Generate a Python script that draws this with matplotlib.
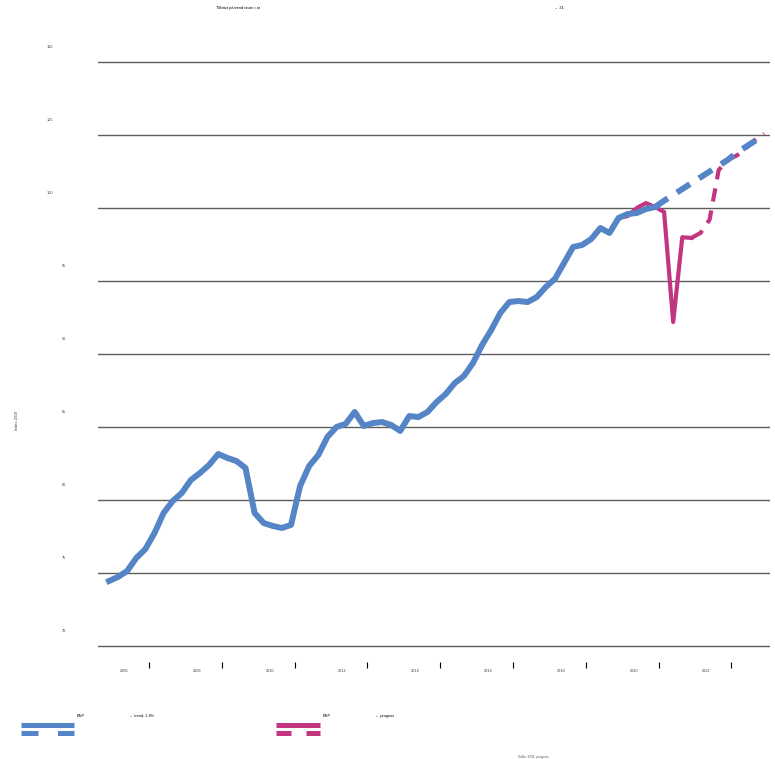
import matplotlib
matplotlib.use("Agg")
import matplotlib.pyplot as plt
from matplotlib.lines import Line2D

plt.rcParams['font.family'] = ['Liberation Sans', 'DejaVu Sans']

# BNP index, quarterly (q = 0 .. 60)
bnp = [74.45, 74.73, 75.14, 76.03, 76.64, 77.74, 79.11, 79.93, 80.48, 81.37,
       81.85, 82.40, 83.15, 82.88, 82.67, 82.19, 79.11, 78.42, 78.22, 78.08,
       78.29, 80.96, 82.33, 83.08, 84.32, 85.00, 85.21, 86.03, 85.07, 85.27,
       85.34, 85.14, 84.73, 85.75, 85.68, 86.03, 86.71, 87.26, 88.01, 88.49,
       89.38, 90.62, 91.64, 92.81, 93.56, 93.63, 93.56, 93.90, 94.59, 95.14,
       96.23, 97.33, 97.47, 97.88, 98.63, 98.29, 99.32, 99.59, 99.66, 99.93,
       100.07]
# trend 1.8 %, q = 60 .. 72
trend = [100.07, 100.5, 100.9, 101.3, 101.7, 102.1, 102.5, 102.9, 103.3,
         103.8, 104.2, 104.6, 105.0]
# revised BNP outcome, q = 57 .. 64
bnp_new = [99.45, 100.0, 100.34, 100.07, 99.73, 92.19, 98.0, 97.95]
# forecast, q = 64 .. 72
prognos = [97.95, 98.29, 99.2, 102.6, 103.3, 103.6, 104.1, 104.66, 105.1]

yticks = [70, 75, 80, 85, 90, 95, 100, 105, 110]
xlabels = ['2006', '2008', '2010', '2012', '2014', '2016', '2018', '2020', '2022']

blue = '#5585C6'
magenta = '#C2357F'
W, H = 775, 759

fig = plt.figure(figsize=(W / 100, H / 100), dpi=100)
ax = fig.add_axes([98 / W, 1 - 648 / H, (770 - 98) / W, (648 - 60) / H])

q_bnp = list(range(len(bnp)))
q_trend = list(range(60, 60 + len(trend)))
q_new = list(range(57, 57 + len(bnp_new)))
q_prog = list(range(64, 64 + len(prognos)))

mag_hist = bnp[:57] + bnp_new
ax.plot(range(len(mag_hist)), mag_hist, color=magenta, lw=3.0, solid_joinstyle='round', zorder=3)
ax.plot(q_prog, prognos, color=magenta, lw=3.0, dashes=(3.2, 2.2), zorder=3)
ax.plot(q_bnp, bnp, color=blue, lw=4.3, solid_joinstyle='round', zorder=4)
ax.plot(q_trend, trend, color=blue, lw=4.3, dashes=(2.6, 1.8), zorder=4)

ax.set_ylim(69.86, 110.14)
ax.set_xlim(-1.21, 72.64)
ax.set_yticks(yticks)
ax.set_yticklabels([])
ax.tick_params(axis='y', length=0)
ax.grid(axis='y', color='#5e5e5e', lw=1.0)
ax.set_axisbelow(True)
for s in ['top', 'right', 'left']:
    ax.spines[s].set_visible(False)
ax.spines['bottom'].set_position(('outward', 10))
ax.spines['bottom'].set_visible(False)

for v in yticks:
    lab = str(v)
    xoff = -51 if len(lab) == 3 else -36
    ax.annotate(lab, xy=(0, v), xycoords=('axes fraction', 'data'),
                xytext=(xoff, 15), textcoords='offset pixels',
                ha='left', va='center', fontsize=2.8, color='#404040')

ax.set_xticks([4.4 + 8 * k for k in range(len(xlabels))])
ax.set_xticklabels([])
ax.set_xticks([1.65 + 8 * k for k in range(len(xlabels))], minor=True)
ax.set_xticklabels(xlabels, minor=True, fontsize=2.8, color='#404040')
ax.tick_params(axis='x', which='major', direction='out', length=4.3, width=0.8, color='black')
ax.tick_params(axis='x', which='minor', length=0, pad=5.2)

fig.text(17 / W, 1 - 420 / H, 'Index 2019', rotation=90, fontsize=2.8,
         ha='center', va='center', color='#404040')
fig.text(216 / W, 1 - 8 / H, 'Tillväxt på trend nivån i år', fontsize=2.8,
         ha='left', va='center', color='black')
fig.text(555 / W, 1 - 8 / H, '–  21', fontsize=2.8, ha='left', va='center')
fig.text(518 / W, 1 - 757 / H, 'Källa: SCB, prognos', fontsize=2.4,
         ha='left', va='center', color='#606060')

# legend
def swatch(x0, x1, y, color, dashes=None):
    fx = [x0 / W, x1 / W]
    fy = [1 - y / H, 1 - y / H]
    line = Line2D(fx, fy, color=color, lw=3.6, solid_capstyle='butt', dash_capstyle='butt')
    if dashes:
        line.set_dashes(dashes)
    fig.add_artist(line)

swatch(21, 74, 725, blue)
swatch(21, 74, 733, blue, (3.4, 3.9))
swatch(276, 320, 725, magenta)
swatch(276, 320, 733, magenta, (3.0, 3.0))
fig.text(77 / W, 1 - 716 / H, 'BNP', fontsize=2.8, ha='left', va='center')
fig.text(130 / W, 1 - 716 / H, '–  trend, 1.8%', fontsize=2.8, ha='left', va='center')
fig.text(323 / W, 1 - 716 / H, 'BNP', fontsize=2.8, ha='left', va='center')
fig.text(376 / W, 1 - 716 / H, '–  prognos', fontsize=2.8, ha='left', va='center')

fig.savefig('out.png', dpi=100, facecolor='white')
